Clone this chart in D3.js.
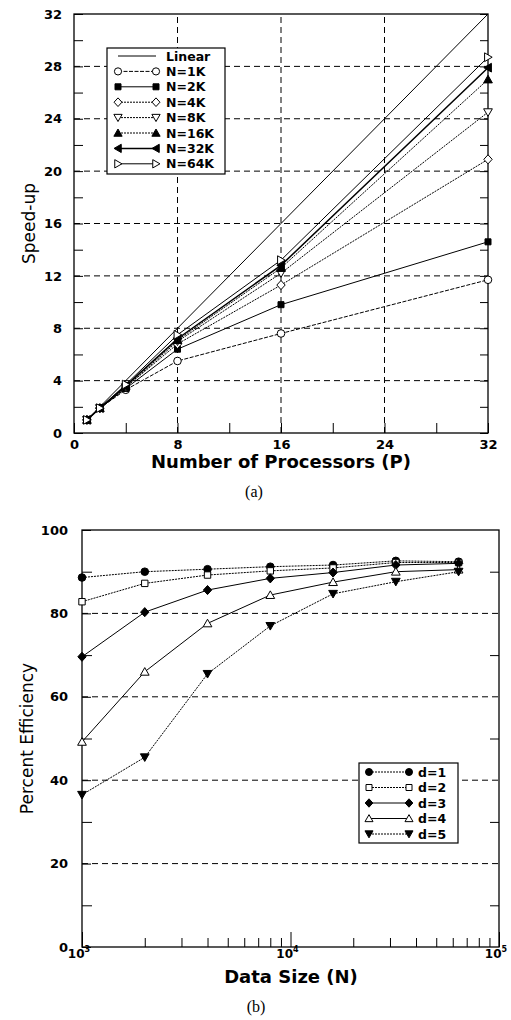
<!DOCTYPE html>
<html>
<head>
<meta charset="utf-8">
<script src="https://cdn.jsdelivr.net/npm/d3@7"></script>
<style>
body { margin: 0; background: #fff; }
svg { display: block; }
</style>
</head>
<body>
<svg id="chart" width="511" height="1020"></svg>
<script>
// (a) speed-up vs processors
var procs = [1, 2, 4, 8, 16, 32];
var speedLinear = [1, 2, 4, 8, 16, 32];
var speedN1K = [1, 1.9, 3.3, 5.5, 7.6, 11.7];
var speedN2K = [1, 1.9, 3.4, 6.4, 9.8, 14.6];
var speedN4K = [1, 1.9, 3.5, 6.8, 11.3, 20.9];
var speedN8K = [1, 1.9, 3.5, 7.0, 12.2, 24.5];
var speedN16K = [1, 1.9, 3.6, 7.1, 12.6, 27.0];
var speedN32K = [1, 1.9, 3.6, 7.2, 12.8, 27.9];
var speedN64K = [1, 1.9, 3.7, 7.5, 13.2, 28.7];
var procTicks = [0, 4, 8, 12, 16, 20, 24, 28, 32];
var speedTicks = [0, 2, 4, 6, 8, 10, 12, 14, 16, 18, 20, 22, 24, 26, 28, 30, 32];

// (b) efficiency vs data size
var dataSize = [1000, 2000, 4000, 8000, 16000, 32000, 64000];
var effD1 = [88.6, 90.0, 90.6, 91.2, 91.6, 92.6, 92.4];
var effD2 = [82.8, 87.2, 89.2, 90.2, 90.9, 92.2, 92.2];
var effD3 = [69.6, 80.3, 85.6, 88.4, 89.8, 91.6, 92.0];
var effD4 = [49.2, 66.0, 77.6, 84.4, 87.5, 90.0, 90.5];
var effD5 = [36.5, 45.5, 65.5, 77.0, 84.7, 87.6, 90.0];
var effTicks = [0, 20, 40, 60, 80, 100];
var effMinor = [10, 30, 50, 70, 90];

var svg = d3.select("#chart");
var boldFont = "'DejaVu Sans', sans-serif";

function markerPath(type, r){
	if(type == "circle") return d3.symbol(d3.symbolCircle, Math.PI*r*r)();
	if(type == "square") return "M"+(-r)+","+(-r)+"h"+(2*r)+"v"+(2*r)+"h"+(-2*r)+"Z";
	if(type == "diamond") return "M0,"+(-r*1.2)+"L"+(r*1.1)+",0L0,"+(r*1.2)+"L"+(-r*1.1)+",0Z";
	if(type == "triUp") return "M0,"+(-r*1.1)+"L"+(r*1.15)+","+(r*0.9)+"L"+(-r*1.15)+","+(r*0.9)+"Z";
	if(type == "triDown") return "M0,"+(r*1.1)+"L"+(r*1.15)+","+(-r*0.9)+"L"+(-r*1.15)+","+(-r*0.9)+"Z";
	if(type == "triLeft") return "M"+(-r*1.1)+",0L"+(r*0.9)+","+(-r*1.15)+"L"+(r*0.9)+","+(r*1.15)+"Z";
	if(type == "triRight") return "M"+(r*1.1)+",0L"+(-r*0.9)+","+(-r*1.15)+"L"+(-r*0.9)+","+(r*1.15)+"Z";
	return "";
}

function drawMarker(g, type, filled, x, y, r){
	g.append("path")
	.attr("d", markerPath(type, r))
	.attr("transform", "translate("+x+","+y+")")
	.attr("fill", filled ? "#000" : "#fff")
	.attr("stroke", "#000")
	.attr("stroke-width", 1);
}

function drawFrame(x0, x1, y0, y1){
	svg.append("rect")
	.attr("x", x0).attr("y", y1)
	.attr("width", x1-x0).attr("height", y0-y1)
	.attr("fill", "none")
	.attr("stroke", "#000")
	.attr("stroke-width", 1.3);
}

function styleAxis(g){
	g.select(".domain").remove();
	g.selectAll(".tick line").attr("stroke", "#000").attr("stroke-width", 1);
	g.selectAll(".tick text")
	.attr("fill", "#000")
	.style("font-family", boldFont)
	.style("font-weight", "bold")
	.style("font-size", "13px");
}

/* ---------- chart (a) ---------- */
var xP = d3.scaleLinear().domain([0, 32]).range([74, 488]);
var yS = d3.scaleLinear().domain([0, 32]).range([433, 14]);

// dashed grid
[4, 8, 12, 16, 20, 24, 28].forEach(function(v){
	svg.append("line")
	.attr("x1", xP(0)).attr("x2", xP(32))
	.attr("y1", yS(v)).attr("y2", yS(v))
	.attr("stroke", "#000").attr("stroke-width", 1)
	.attr("stroke-dasharray", "6,4");
});
[8, 16, 24].forEach(function(v){
	svg.append("line")
	.attr("x1", xP(v)).attr("x2", xP(v))
	.attr("y1", yS(0)).attr("y2", yS(32))
	.attr("stroke", "#000").attr("stroke-width", 1)
	.attr("stroke-dasharray", "6,4");
});

svg.append("g")
.attr("transform", "translate("+xP(0)+",0)")
.call(d3.axisLeft(yS).tickValues(speedTicks).tickSize(-9).tickPadding(12)
	.tickFormat(function(d){ return d%4 == 0 ? d : ""; }))
.call(styleAxis);

svg.append("g")
.attr("transform", "translate("+xP(32)+",0)")
.call(d3.axisRight(yS).tickValues(speedTicks).tickSize(-8).tickFormat(""))
.call(styleAxis);

svg.append("g")
.attr("transform", "translate(0,"+yS(0)+")")
.call(d3.axisBottom(xP).tickValues(procTicks).tickSize(-10).tickPadding(7)
	.tickFormat(function(d){ return d%8 == 0 ? d : ""; }))
.call(styleAxis);

drawFrame(xP(0), xP(32), yS(0), yS(32));

var seriesA = [
	{name: "Linear", values: speedLinear, marker: null, filled: false, dash: null, width: 1},
	{name: "N=1K", values: speedN1K, marker: "circle", filled: false, dash: "4,1.5", width: 1},
	{name: "N=2K", values: speedN2K, marker: "square", filled: true, dash: null, width: 1},
	{name: "N=4K", values: speedN4K, marker: "diamond", filled: false, dash: "2,1", width: 1},
	{name: "N=8K", values: speedN8K, marker: "triDown", filled: false, dash: "2,1", width: 1},
	{name: "N=16K", values: speedN16K, marker: "triUp", filled: true, dash: "2,1", width: 1},
	{name: "N=32K", values: speedN32K, marker: "triLeft", filled: true, dash: null, width: 1.5},
	{name: "N=64K", values: speedN64K, marker: "triRight", filled: false, dash: null, width: 1}
];

var lineA = d3.line()
.x(function(d, i){ return xP(procs[i]); })
.y(function(d){ return yS(d); });

var gA = svg.append("g");
seriesA.forEach(function(s){
	gA.append("path")
	.attr("d", lineA(s.values))
	.attr("fill", "none")
	.attr("stroke", "#000")
	.attr("stroke-width", s.width)
	.attr("stroke-dasharray", s.dash);
});
seriesA.forEach(function(s){
	if(!s.marker) return;
	s.values.forEach(function(v, i){
		drawMarker(gA, s.marker, s.filled, xP(procs[i]), yS(v), s.marker == "square" ? 3 : 3.8);
	});
});

// legend (a)
var legA = svg.append("g");
legA.append("rect")
.attr("x", 107).attr("y", 48).attr("width", 118).attr("height", 126)
.attr("fill", "#fff").attr("stroke", "#000").attr("stroke-width", 1.2);
seriesA.forEach(function(s, i){
	var ly = 56 + i*15.4;
	legA.append("line")
	.attr("x1", 118).attr("x2", 156).attr("y1", ly).attr("y2", ly)
	.attr("stroke", "#000").attr("stroke-width", s.width)
	.attr("stroke-dasharray", s.dash);
	if(s.marker){
		drawMarker(legA, s.marker, s.filled, 118, ly, s.marker == "square" ? 3 : 3.6);
		drawMarker(legA, s.marker, s.filled, 156, ly, s.marker == "square" ? 3 : 3.6);
	}
	legA.append("text")
	.attr("x", 166).attr("y", ly)
	.attr("dy", "0.36em")
	.style("font-family", boldFont)
	.style("font-weight", "bold")
	.style("font-size", "12.5px")
	.text(s.name);
});

svg.append("text")
.attr("transform", "translate(29,"+yS(16)+") rotate(-90)")
.attr("text-anchor", "middle")
.attr("dy", "0.35em")
.style("font-family", "'DejaVu Sans', sans-serif")
.style("font-size", "17px")
.text("Speed-up");

svg.append("text")
.attr("x", xP(16)).attr("y", 468)
.attr("text-anchor", "middle")
.style("font-family", boldFont)
.style("font-weight", "bold")
.style("font-size", "18px")
.text("Number of Processors (P)");

svg.append("text")
.attr("x", 254).attr("y", 497)
.attr("text-anchor", "middle")
.style("font-family", "'Liberation Serif', serif")
.style("font-size", "16px")
.text("(a)");

/* ---------- chart (b) ---------- */
var xN = d3.scaleLog().domain([1e3, 1e5]).range([82, 499]);
var yE = d3.scaleLinear().domain([0, 100]).range([947, 530]);

[20, 40, 60, 80].forEach(function(v){
	svg.append("line")
	.attr("x1", xN(1e3)).attr("x2", xN(1e5))
	.attr("y1", yE(v)).attr("y2", yE(v))
	.attr("stroke", "#000").attr("stroke-width", 1)
	.attr("stroke-dasharray", "6,4");
});

svg.append("g")
.attr("transform", "translate("+xN(1e3)+",0)")
.call(d3.axisLeft(yE).tickValues(effTicks).tickSize(-9).tickPadding(14))
.call(styleAxis);

svg.append("g")
.attr("transform", "translate("+xN(1e3)+",0)")
.call(d3.axisLeft(yE).tickValues(effMinor).tickSize(-10).tickFormat(""))
.call(styleAxis);

svg.append("g")
.attr("transform", "translate("+xN(1e5)+",0)")
.call(d3.axisRight(yE).tickValues(effMinor).tickSize(-9).tickFormat(""))
.call(styleAxis);

var logMinor = [];
[1e3, 1e4].forEach(function(dec){
	for(var k = 2; k < 10; k++) logMinor.push(k*dec);
});

svg.append("g")
.attr("transform", "translate(0,"+yE(0)+")")
.call(d3.axisBottom(xN).tickValues(logMinor).tickSize(-9).tickFormat(""))
.call(styleAxis);

svg.append("g")
.attr("transform", "translate(0,"+yE(0)+")")
.call(d3.axisBottom(xN).tickValues([1e3, 1e4, 1e5]).tickSize(-15).tickFormat(""))
.call(styleAxis);

drawFrame(xN(1e3), xN(1e5), yE(0), yE(100));

[[1e3, "3"], [1e4, "4"], [1e5, "5"]].forEach(function(t){
	var lab = svg.append("text")
	.attr("x", xN(t[0]) - 3).attr("y", 958)
	.attr("text-anchor", "middle")
	.style("font-family", boldFont)
	.style("font-weight", "bold")
	.style("font-size", "12px");
	lab.append("tspan").text("10");
	lab.append("tspan").attr("dy", -6).style("font-size", "8px").text(t[1]);
});

var seriesB = [
	{name: "d=1", values: effD1, marker: "circle", filled: true, dash: "2,1"},
	{name: "d=2", values: effD2, marker: "square", filled: false, dash: "2,1"},
	{name: "d=3", values: effD3, marker: "diamond", filled: true, dash: null},
	{name: "d=4", values: effD4, marker: "triUp", filled: false, dash: null},
	{name: "d=5", values: effD5, marker: "triDown", filled: true, dash: "2,1"}
];

var lineB = d3.line()
.x(function(d, i){ return xN(dataSize[i]); })
.y(function(d){ return yE(d); });

var gB = svg.append("g");
seriesB.forEach(function(s){
	gB.append("path")
	.attr("d", lineB(s.values))
	.attr("fill", "none")
	.attr("stroke", "#000")
	.attr("stroke-width", 1)
	.attr("stroke-dasharray", s.dash);
});
seriesB.forEach(function(s){
	s.values.forEach(function(v, i){
		drawMarker(gB, s.marker, s.filled, xN(dataSize[i]), yE(v), s.marker == "square" ? 3.2 : 3.8);
	});
});

// legend (b)
var legB = svg.append("g");
legB.append("rect")
.attr("x", 359).attr("y", 763).attr("width", 99).attr("height", 80)
.attr("fill", "#fff").attr("stroke", "#000").attr("stroke-width", 1.2);
seriesB.forEach(function(s, i){
	var ly = 772 + i*15.5;
	legB.append("line")
	.attr("x1", 369).attr("x2", 409).attr("y1", ly).attr("y2", ly)
	.attr("stroke", "#000").attr("stroke-width", 1)
	.attr("stroke-dasharray", s.dash);
	drawMarker(legB, s.marker, s.filled, 369, ly, s.marker == "square" ? 3 : 3.5);
	drawMarker(legB, s.marker, s.filled, 409, ly, s.marker == "square" ? 3 : 3.5);
	legB.append("text")
	.attr("x", 418).attr("y", ly)
	.attr("dy", "0.36em")
	.style("font-family", boldFont)
	.style("font-weight", "bold")
	.style("font-size", "12.5px")
	.text(s.name);
});

svg.append("text")
.attr("transform", "translate(27,"+yE(50)+") rotate(-90)")
.attr("text-anchor", "middle")
.attr("dy", "0.35em")
.style("font-family", "'DejaVu Sans', sans-serif")
.style("font-size", "17px")
.text("Percent Efficiency");

svg.append("text")
.attr("x", 291).attr("y", 983)
.attr("text-anchor", "middle")
.style("font-family", boldFont)
.style("font-weight", "bold")
.style("font-size", "18px")
.text("Data Size (N)");

svg.append("text")
.attr("x", 256).attr("y", 1012)
.attr("text-anchor", "middle")
.style("font-family", "'Liberation Serif', serif")
.style("font-size", "16px")
.text("(b)");
</script>
</body>
</html>
